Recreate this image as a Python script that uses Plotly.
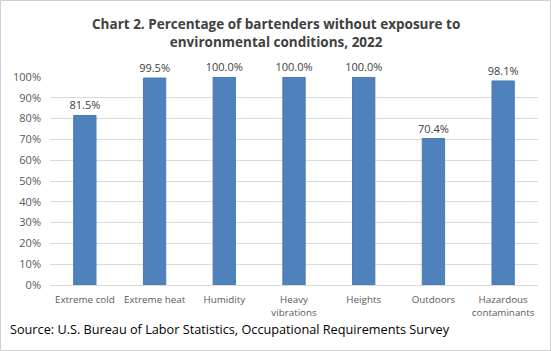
import plotly.graph_objects as go

categories = ["Extreme cold", "Extreme heat", "Humidity", "Heavy<br>vibrations",
              "Heights", "Outdoors", "Hazardous<br>contaminants"]
values = [81.5, 99.5, 100.0, 100.0, 100.0, 70.4, 98.1]
tick_vals = [0, 10, 20, 30, 40, 50, 60, 70, 80, 90, 100]
tick_text = [f"{v}%" for v in tick_vals]

W, H = 551, 351
ml, mr, mt, mb = 50, 13, 77, 66
pw, ph = W - ml - mr, H - mt - mb
FONT = "Open Sans, Liberation Sans, sans-serif"

fig = go.Figure(go.Bar(
    x=categories, y=values,
    marker=dict(color="#4F81BD", line=dict(color="#4A7AB5", width=1)),
    width=0.32,
    text=[f"{v:.1f}%" for v in values],
    textposition="outside",
    constraintext="none",
    textfont=dict(family=FONT, size=11, color="#404040"),
    cliponaxis=False,
))

fig.update_layout(
    width=W, height=H,
    margin=dict(l=ml, r=mr, t=mt, b=mb),
    paper_bgcolor="white", plot_bgcolor="white",
    font=dict(family=FONT, color="#595959"),
    showlegend=False,
    xaxis=dict(
        showline=True, linecolor="#D9D9D9", linewidth=1,
        tickfont=dict(size=9.8, color="#595959"),
        ticks="", fixedrange=True,
        ticklabelstandoff=5,
    ),
    yaxis=dict(
        range=[0, 100], tickvals=tick_vals, ticktext=tick_text,
        showgrid=True, gridcolor="#D9D9D9", gridwidth=1,
        zeroline=False, showline=False, ticks="",
        tickfont=dict(size=11, color="#595959"),
        ticklabelstandoff=8,
    ),
    annotations=[
        dict(
            text="<b>Chart 2. Percentage of bartenders without exposure to<br>environmental conditions, 2022</b>",
            xref="paper", yref="paper",
            x=(W / 2 - ml) / pw, y=1 + (mt - 33) / ph,
            xanchor="center", yanchor="middle", showarrow=False,
            font=dict(family=FONT, size=13.5, color="#404040"),
        ),
        dict(
            text="Source: U.S. Bureau of Labor Statistics, Occupational Requirements Survey",
            xref="paper", yref="paper",
            x=-(ml - 8) / pw, y=-(329 - (H - mb)) / ph,
            xanchor="left", yanchor="middle", showarrow=False,
            font=dict(family=FONT, size=12.7, color="#000000"),
        ),
    ],
    shapes=[dict(
        type="rect", xref="paper", yref="paper",
        x0=-(ml - 0.5) / pw, x1=1 + (mr - 0.5) / pw,
        y0=-(mb - 0.5) / ph, y1=1 + (mt - 0.5) / ph,
        line=dict(color="#D0D0D0", width=1), fillcolor="rgba(0,0,0,0)",
    )],
)

fig.write_html("out.html")
